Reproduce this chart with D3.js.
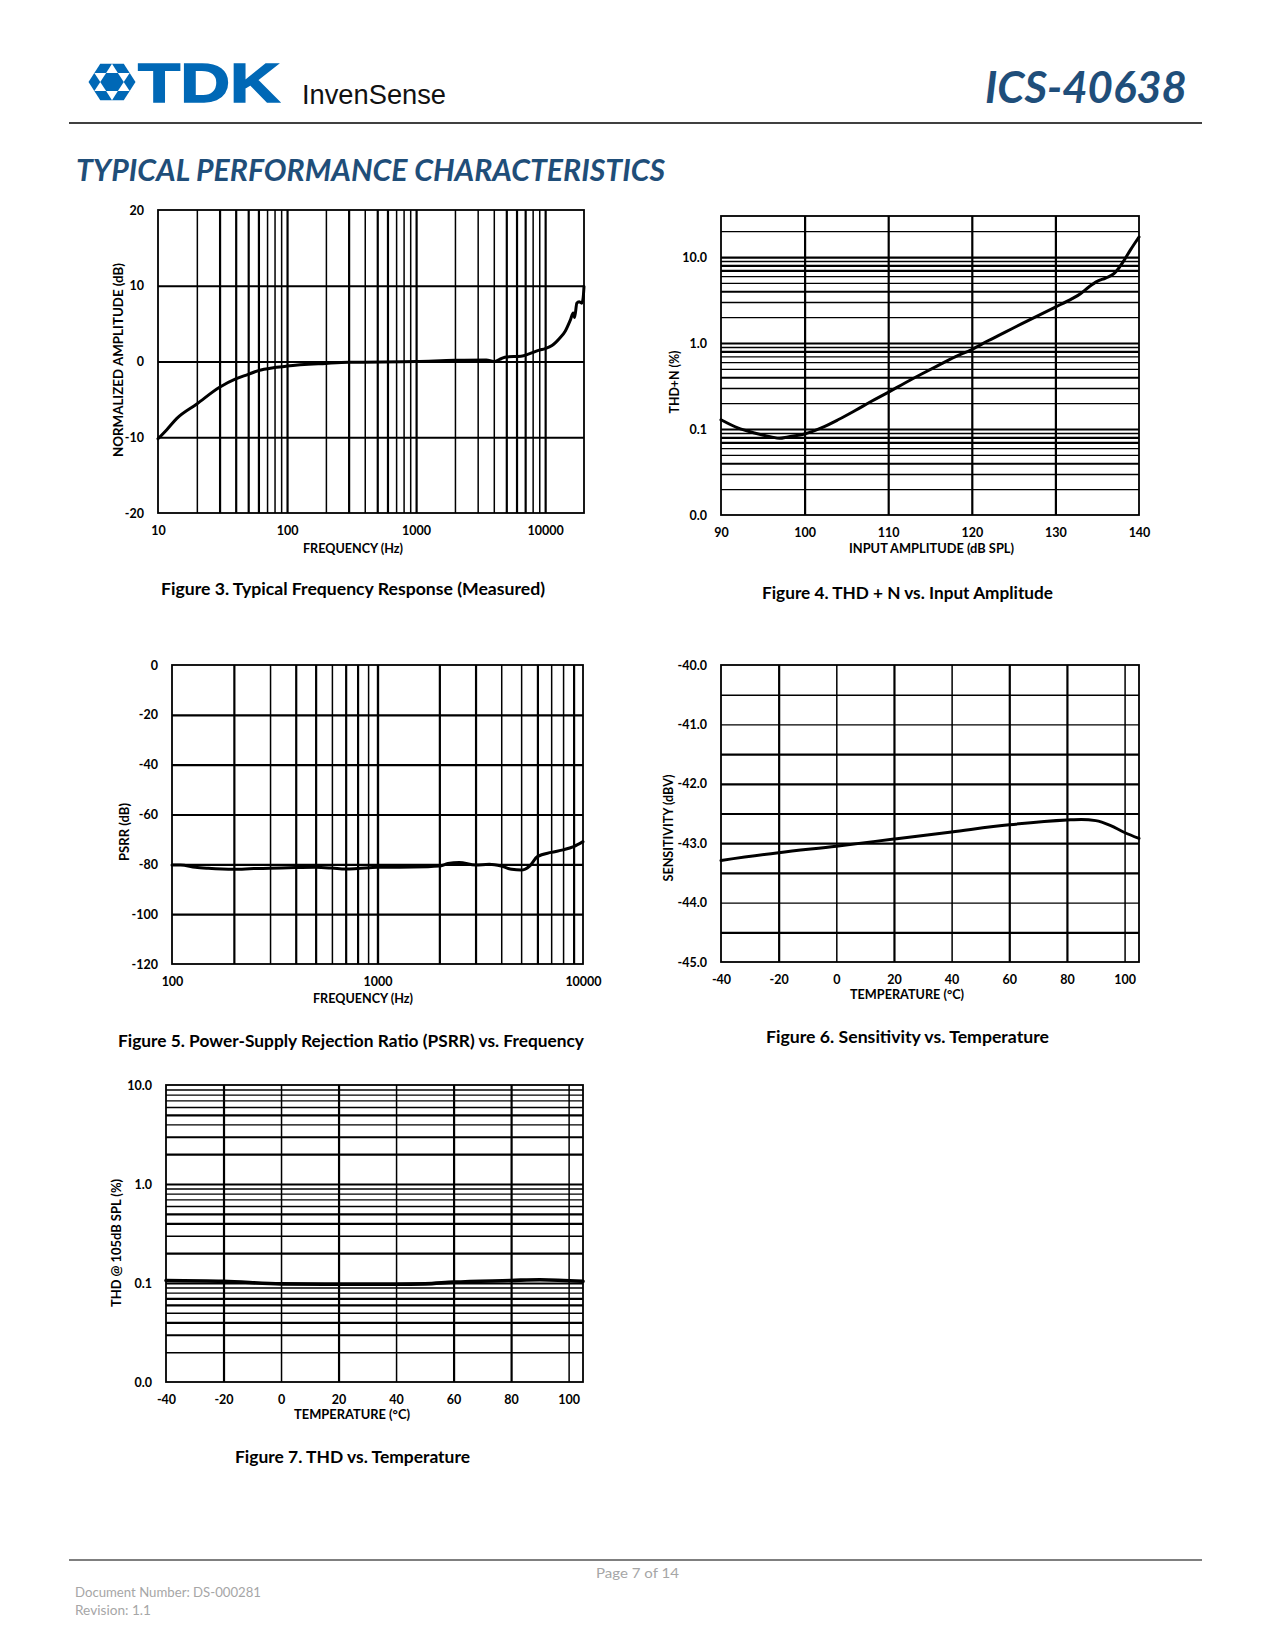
<!DOCTYPE html>
<html><head><meta charset="utf-8">
<script src="https://cdn.jsdelivr.net/npm/d3@7"></script>
<style>
body{margin:0;background:#fff}
text{font-family:Lato,"Open Sans",sans-serif}
</style>
</head><body>
<svg id="page" width="1275" height="1650"></svg>
<script>
// ---------------- DATA ----------------
// Figure 3: Typical Frequency Response
const fig3Freq = [10, 11.7, 14, 20, 30, 40, 50, 60, 80, 100, 200, 300, 1000, 2000, 3500, 4000, 4600, 5000, 6500, 7500, 9000, 10000, 11300, 13000, 14300, 15700, 16500, 16900, 17600, 18300, 19200, 19700, 20000];
const fig3Amp  = [-10.2, -9.0, -7.5, -5.6, -3.4, -2.3, -1.7, -1.2, -0.8, -0.6, -0.25, -0.1, 0, 0.15, 0.2, 0.0, 0.4, 0.6, 0.7, 1.0, 1.5, 1.7, 2.1, 3.1, 4.0, 5.5, 6.4, 5.8, 7.7, 7.9, 7.7, 8.4, 9.9];
const fig3YTicks = [-20, -10, 0, 10, 20];
const fig3XTicks = [10, 100, 1000, 10000];
const fig3XLabels = ["10", "100", "1000", "10000"];

// Figure 4: THD+N vs input amplitude
const fig4Spl = [90, 92, 94, 96, 97, 98, 100, 102, 104, 106, 108, 110, 112, 114, 116, 118, 120, 122, 124, 126, 128, 130, 132, 133, 134, 135, 136, 137, 137.5, 138, 139, 140];
const fig4Thd = [0.128, 0.103, 0.090, 0.081, 0.078, 0.081, 0.0875, 0.103, 0.128, 0.163, 0.21, 0.267, 0.343, 0.436, 0.55, 0.69, 0.84, 1.07, 1.34, 1.68, 2.10, 2.62, 3.28, 3.75, 4.48, 5.21, 5.70, 6.40, 7.25, 8.5, 12.2, 17.1];
const fig4XTicks = [90, 100, 110, 120, 130, 140];
const fig4YTicks = [0.01, 0.1, 1, 10];
const fig4YLabels = ["0.0", "0.1", "1.0", "10.0"];

// Figure 5: PSRR vs frequency
const fig5Freq = [100, 110, 130, 150, 200, 250, 300, 400, 500, 600, 700, 800, 1000, 1500, 2000, 2200, 2500, 3000, 3500, 4000, 4500, 5000, 5500, 6000, 7000, 8000, 9000, 10000];
const fig5Psrr = [-80.3, -80.3, -81.2, -81.6, -82.0, -81.7, -81.6, -81.3, -81.2, -81.5, -81.9, -81.7, -81.2, -81.1, -80.7, -79.7, -79.3, -80.3, -80.0, -80.7, -82.0, -82.3, -80.7, -76.9, -75.2, -74.2, -72.9, -70.9];
const fig5YTicks = [-120, -100, -80, -60, -40, -20, 0];
const fig5XTicks = [100, 1000, 10000];
const fig5XLabels = ["100", "1000", "10000"];

// Figure 6: Sensitivity vs temperature
const fig6Temp = [-40, -20, 0, 20, 40, 60, 80, 85, 90, 95, 100, 105];
const fig6Sens = [-43.29, -43.16, -43.05, -42.93, -42.81, -42.69, -42.61, -42.60, -42.62, -42.70, -42.82, -42.92];
const fig6XTicks = [-40, -20, 0, 20, 40, 60, 80, 100];
const fig6YTicks = [-45, -44, -43, -42, -41, -40];
const fig6YLabels = ["-45.0", "-44.0", "-43.0", "-42.0", "-41.0", "-40.0"];

// Figure 7: THD vs temperature
const fig7Temp = [-40, -20, 0, 20, 40, 50, 60, 80, 90, 105];
const fig7Thd  = [0.106, 0.104, 0.098, 0.097, 0.097, 0.098, 0.102, 0.106, 0.108, 0.104];
const fig7XTicks = [-40, -20, 0, 20, 40, 60, 80, 100];
const fig7YTicks = [0.01, 0.1, 1, 10];
const fig7YLabels = ["0.0", "0.1", "1.0", "10.0"];

// ---------------- PAGE ----------------
const svg = d3.select("#page");
svg.append("rect").attr("width", 1275).attr("height", 1650).attr("fill", "#fff");

// Header: TDK emblem
(function emblem() {
  const cx = 112, cy = 82, rx = 23.5, ry = 21;
  const g = svg.append("g");
  const pts = d3.range(6).map(i => [cx + rx * Math.cos(i * Math.PI / 3), cy + ry * Math.sin(i * Math.PI / 3)]);
  g.append("polygon").attr("points", pts.map(p => p.join(",")).join(" ")).attr("fill", "#0068b6");
  for (let i = 0; i < 6; i++) {
    const a = pts[i], b = pts[(i + 1) % 6], c = [cx, cy];
    const m = (p, q) => [(p[0] + q[0]) / 2, (p[1] + q[1]) / 2];
    const tri = [m(a, b), m(b, c), m(c, a)];
    g.append("polygon").attr("points", tri.map(p => p.join(",")).join(" ")).attr("fill", "#fff");
  }
})();
svg.append("text").attr("x", 138).attr("y", 102).text("TDK")
  .style("font-family", "'Liberation Sans',Arial,sans-serif").style("font-weight", "bold")
  .attr("font-size", 55).attr("fill", "#0068b6").attr("stroke", "#0068b6").attr("stroke-width", 1.5)
  .attr("textLength", 142).attr("lengthAdjust", "spacingAndGlyphs");
svg.append("text").attr("x", 302).attr("y", 104).text("InvenSense")
  .style("font-family", "'Liberation Sans',Arial,sans-serif")
  .attr("font-size", 27).attr("fill", "#111").attr("textLength", 144).attr("lengthAdjust", "spacingAndGlyphs");
svg.append("text").attr("x", 1187).attr("y", 103).attr("text-anchor", "end").text("ICS-40638")
  .attr("font-size", 43).attr("font-weight", "bold").attr("font-style", "italic").attr("fill", "#1f4e7a")
  .attr("textLength", 202).attr("lengthAdjust", "spacingAndGlyphs");
svg.append("line").attr("x1", 69).attr("x2", 1202).attr("y1", 123).attr("y2", 123).attr("stroke", "#000").attr("stroke-width", 1.3);
svg.append("text").attr("x", 76).attr("y", 181).text("TYPICAL PERFORMANCE CHARACTERISTICS")
  .attr("font-size", 31).attr("font-weight", "bold").attr("font-style", "italic").attr("fill", "#1f4e79")
  .attr("textLength", 589).attr("lengthAdjust", "spacingAndGlyphs");

// Footer
svg.append("line").attr("x1", 69).attr("x2", 1202).attr("y1", 1560).attr("y2", 1560).attr("stroke", "#000").attr("stroke-width", 1.2);
svg.append("text").attr("x", 596).attr("y", 1578).text("Page 7 of 14").attr("font-size", 14).attr("fill", "#a6a6a6")
  .attr("textLength", 83).attr("lengthAdjust", "spacingAndGlyphs");
svg.append("text").attr("x", 75).attr("y", 1597).text("Document Number: DS-000281").attr("font-size", 13).attr("fill", "#a6a6a6")
  .attr("textLength", 186).attr("lengthAdjust", "spacingAndGlyphs");
svg.append("text").attr("x", 75).attr("y", 1615).text("Revision: 1.1").attr("font-size", 13).attr("fill", "#a6a6a6")
  .attr("textLength", 76).attr("lengthAdjust", "spacingAndGlyphs");

// ---------------- CHART HELPER ----------------
function logMinor(lo, hi) {
  const out = [];
  for (let e = Math.floor(Math.log10(lo)); e <= Math.ceil(Math.log10(hi)); e++)
    for (let k = 1; k < 10; k++) { const v = k * Math.pow(10, e); if (v > lo * 1.0001 && v < hi * 0.9999) out.push(v); }
  return out;
}

function drawChart(c) {
  const g = svg.append("g");
  const w = c.x.range()[1] - c.x.range()[0], h = c.y.range()[0] - c.y.range()[1];
  const L = c.x.range()[0], T = c.y.range()[1], B = c.y.range()[0];
  // vertical gridlines
  const vg = g.append("g").attr("transform", `translate(0,${B})`)
    .call(d3.axisBottom(c.x).tickValues(c.xGrid).tickSize(-h).tickFormat(""));
  vg.select(".domain").remove();
  vg.selectAll("line").attr("stroke", "#000").attr("stroke-width", d => c.xMajor.includes(d) ? 2.2 : 1.5);
  // horizontal gridlines
  const hg = g.append("g").attr("transform", `translate(${L},0)`)
    .call(d3.axisLeft(c.y).tickValues(c.yGrid).tickSize(-w).tickFormat(""));
  hg.select(".domain").remove();
  hg.selectAll("line").attr("stroke", "#000").attr("stroke-width", d => c.yMajor.includes(d) ? 2.2 : 1.4);
  // frame
  g.append("rect").attr("x", L).attr("y", T).attr("width", w).attr("height", h)
    .attr("fill", "none").attr("stroke", "#000").attr("stroke-width", 1.8);
  // tick labels
  const xl = g.append("g").attr("transform", `translate(0,${B})`)
    .call(d3.axisBottom(c.x).tickValues(c.xTicks).tickSize(0).tickPadding(13).tickFormat((d, i) => c.xLabels[i]));
  const yl = g.append("g").attr("transform", `translate(${L},0)`)
    .call(d3.axisLeft(c.y).tickValues(c.yTicks).tickSize(0).tickPadding(14).tickFormat((d, i) => c.yLabels[i]));
  [xl, yl].forEach(a => {
    a.select(".domain").remove();
    a.selectAll("text").attr("font-family", "Lato,'Open Sans',sans-serif").attr("font-size", 12.5)
      .attr("font-weight", "bold").attr("fill", "#000");
  });
  // axis titles
  g.append("text").attr("x", c.xTitlePos[0]).attr("y", c.xTitlePos[1]).attr("text-anchor", "middle")
    .text(c.xTitle).attr("font-size", 12.5).attr("font-weight", "bold")
    .attr("textLength", c.xTitleLen).attr("lengthAdjust", "spacingAndGlyphs");
  g.append("text").attr("transform", `translate(${c.yTitlePos[0] + 4},${c.yTitlePos[1]}) rotate(-90)`)
    .attr("text-anchor", "middle").text(c.yTitle).attr("font-size", 12.5).attr("font-weight", "bold")
    .attr("textLength", c.yTitleLen).attr("lengthAdjust", "spacingAndGlyphs");
  // curve
  const line = d3.line().x((d, i) => c.x(c.xs[i])).y((d, i) => c.y(c.ys[i])).curve(c.curve || d3.curveMonotoneX);
  g.append("path").attr("d", line(c.xs)).attr("fill", "none").attr("stroke", "#000")
    .attr("stroke-width", c.lw || 3).attr("stroke-linejoin", "round").attr("stroke-linecap", "round");
  // caption
  g.append("text").attr("x", c.cap[0]).attr("y", c.cap[1]).text(c.caption)
    .attr("font-size", 17).attr("font-weight", "bold").attr("fill", "#000")
    .attr("textLength", c.cap[2]).attr("lengthAdjust", "spacingAndGlyphs");
}

// ---------------- FIGURE 3 ----------------
drawChart({
  x: d3.scaleLog().domain([10, 20000]).range([158, 584]),
  y: d3.scaleLinear().domain([-20, 20]).range([513, 210]),
  xGrid: logMinor(10, 20000), xMajor: [100, 1000, 10000, 30, 40, 50, 60, 300, 500, 600, 5000, 6000, 7000],
  yGrid: [-10, 0, 10], yMajor: [-10, 0, 10],
  xTicks: fig3XTicks, xLabels: fig3XLabels,
  yTicks: fig3YTicks, yLabels: fig3YTicks.map(String),
  xTitle: "FREQUENCY (Hz)", xTitlePos: [353, 553], xTitleLen: 100,
  yTitle: "NORMALIZED AMPLITUDE (dB)", yTitlePos: [118.5, 360], yTitleLen: 194,
  xs: fig3Freq, ys: fig3Amp, lw: 3,
  caption: "Figure 3. Typical Frequency Response (Measured)", cap: [161, 595, 384]
});

// ---------------- FIGURE 4 ----------------
drawChart({
  x: d3.scaleLinear().domain([90, 140]).range([721, 1139]),
  y: d3.scaleLog().domain([0.01, 30]).range([515, 216]),
  xGrid: [100, 110, 120, 130], xMajor: [100, 110, 120, 130],
  yGrid: logMinor(0.01, 30), yMajor: [0.1, 1, 10, 0.04, 0.07, 0.08, 0.4, 0.7, 0.8, 4, 7, 8],
  xTicks: fig4XTicks, xLabels: fig4XTicks.map(String),
  yTicks: fig4YTicks, yLabels: fig4YLabels,
  xTitle: "INPUT AMPLITUDE (dB SPL)", xTitlePos: [931.5, 553], xTitleLen: 165,
  yTitle: "THD+N (%)", yTitlePos: [675, 382], yTitleLen: 63,
  xs: fig4Spl, ys: fig4Thd, lw: 3,
  caption: "Figure 4. THD + N vs. Input Amplitude", cap: [762, 599, 291]
});

// ---------------- FIGURE 5 ----------------
drawChart({
  x: d3.scaleLog().domain([100, 10000]).range([172, 583]),
  y: d3.scaleLinear().domain([-120, 0]).range([964, 665]),
  xGrid: logMinor(100, 10000).concat([1000]), xMajor: [200, 400, 500, 700, 800, 1000, 2000, 3000, 6000, 9000],
  yGrid: [-100, -80, -60, -40, -20], yMajor: [-100, -80, -60, -40, -20],
  xTicks: fig5XTicks, xLabels: fig5XLabels,
  yTicks: fig5YTicks, yLabels: fig5YTicks.map(String),
  xTitle: "FREQUENCY (Hz)", xTitlePos: [363, 1003], xTitleLen: 100,
  yTitle: "PSRR (dB)", yTitlePos: [125, 832], yTitleLen: 58,
  xs: fig5Freq, ys: fig5Psrr, lw: 3,
  caption: "Figure 5. Power-Supply Rejection Ratio (PSRR) vs. Frequency", cap: [118, 1047, 466]
});

// ---------------- FIGURE 6 ----------------
drawChart({
  x: d3.scaleLinear().domain([-40, 105]).range([721, 1139]),
  y: d3.scaleLinear().domain([-45, -40]).range([962, 665]),
  xGrid: [-20, 0, 20, 40, 60, 80, 100], xMajor: [-20, 20, 60, 80],
  yGrid: d3.range(-44.5, -40, 0.5), yMajor: [-44.5, -43.5, -42.5, -42, -41.5, -43],
  xTicks: fig6XTicks, xLabels: fig6XTicks.map(String),
  yTicks: fig6YTicks, yLabels: fig6YLabels,
  xTitle: "TEMPERATURE (°C)", xTitlePos: [907, 999], xTitleLen: 114,
  yTitle: "SENSITIVITY (dBV)", yTitlePos: [669, 828], yTitleLen: 107,
  xs: fig6Temp, ys: fig6Sens, lw: 3,
  caption: "Figure 6. Sensitivity vs. Temperature", cap: [766, 1043, 283]
});

// ---------------- FIGURE 7 ----------------
drawChart({
  x: d3.scaleLinear().domain([-40, 105]).range([166, 583]),
  y: d3.scaleLog().domain([0.01, 10]).range([1382, 1085]),
  xGrid: [-20, 0, 20, 40, 60, 80, 100], xMajor: [-20, 20, 60, 80],
  yGrid: logMinor(0.01, 10), yMajor: [1, 0.1, 2, 3, 5, 0.2, 0.4, 0.5, 0.6, 0.7, 0.03, 0.04, 0.06, 0.07],
  xTicks: fig7XTicks, xLabels: fig7XTicks.map(String),
  yTicks: fig7YTicks, yLabels: fig7YLabels,
  xTitle: "TEMPERATURE (°C)", xTitlePos: [352, 1419], xTitleLen: 116,
  yTitle: "THD @ 105dB SPL (%)", yTitlePos: [117, 1243], yTitleLen: 128,
  xs: fig7Temp, ys: fig7Thd, lw: 3.6,
  caption: "Figure 7. THD vs. Temperature", cap: [235, 1463, 235]
});
</script>
</body></html>
